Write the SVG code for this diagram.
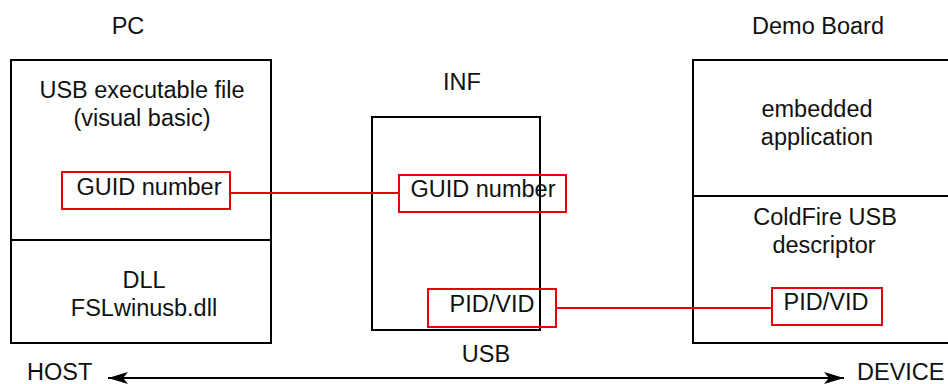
<svg xmlns="http://www.w3.org/2000/svg" width="948" height="384" viewBox="0 0 948 384">
  <style>
    text { font-family: "Liberation Sans", Arial, sans-serif; font-size: 23.5px; fill: #111; }
    .mid { text-anchor: middle; }
    .box { fill: none; stroke: #000; stroke-width: 2; }
    .tag { fill: none; stroke: #e8000b; stroke-width: 2; }
    .link { fill: none; stroke: #e8000b; stroke-width: 2; }
    .bus { fill: none; stroke: #000; stroke-width: 2; }
  </style>
  <defs>
    <marker id="head" viewBox="0 0 20 12" refX="20" refY="6" markerWidth="20" markerHeight="12" markerUnits="userSpaceOnUse" orient="auto-start-reverse">
      <path d="M0,0 L20,6 L0,12 L5,6 Z" fill="#000"/>
    </marker>
  </defs>

  <rect width="948" height="384" fill="#fff"/>

  <!-- PC side -->
  <g id="pc">
    <text x="128" y="34" class="mid">PC</text>
    <rect class="box" x="11" y="60" width="260" height="283"/>
    <line class="box" x1="11" y1="240" x2="271" y2="240"/>
    <text x="142" y="98" class="mid">USB executable file</text>
    <text x="142" y="126" class="mid">(visual basic)</text>
    <text x="144" y="288" class="mid">DLL</text>
    <text x="144" y="316" class="mid">FSLwinusb.dll</text>
  </g>
  <g id="pc-guid">
    <rect class="tag" x="62" y="172" width="168" height="37"/>
    <text x="149" y="195" class="mid">GUID number</text>
  </g>

  <!-- INF file -->
  <g id="inf">
    <text x="462" y="90" class="mid">INF</text>
    <rect class="box" x="372" y="117" width="168" height="213"/>
  </g>
  <g id="inf-guid">
    <rect class="tag" x="399" y="175" width="167" height="37"/>
    <text x="483" y="197" class="mid">GUID number</text>
  </g>
  <g id="inf-pidvid">
    <rect class="tag" x="428" y="289" width="128" height="38"/>
    <text x="492" y="312" class="mid">PID/VID</text>
  </g>

  <!-- Demo board side -->
  <g id="board">
    <text x="818" y="34" class="mid">Demo Board</text>
    <polyline class="box" points="950,60 693,60 693,343 950,343"/>
    <line class="box" x1="693" y1="196" x2="950" y2="196"/>
    <text x="817" y="117" class="mid">embedded</text>
    <text x="817" y="145" class="mid">application</text>
    <text x="825" y="225" class="mid">ColdFire USB</text>
    <text x="824" y="253" class="mid">descriptor</text>
  </g>
  <g id="board-pidvid">
    <rect class="tag" x="772" y="288" width="110" height="37"/>
    <text x="826" y="310" class="mid">PID/VID</text>
  </g>

  <!-- Connectors -->
  <g id="connectors">
    <line class="link" x1="230" y1="193" x2="399" y2="193"/>
    <line class="link" x1="556" y1="308" x2="772" y2="308"/>
    <line class="bus" x1="108" y1="378" x2="844" y2="378" marker-start="url(#head)" marker-end="url(#head)"/>
  </g>

  <!-- Bus labels -->
  <g id="bus-labels">
    <text x="486" y="362" class="mid">USB</text>
    <text x="27" y="380">HOST</text>
    <text x="857" y="380">DEVICE</text>
  </g>
</svg>
